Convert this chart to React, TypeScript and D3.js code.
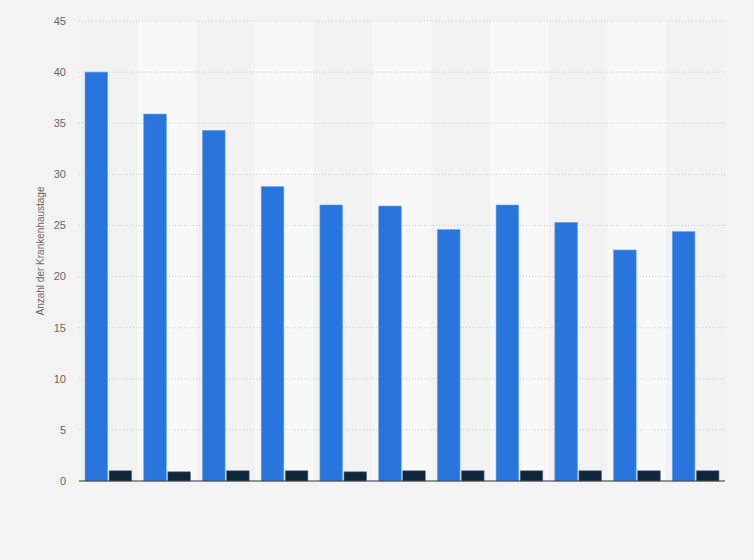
import * as d3 from "d3";

const groups = ["1", "2", "3", "4", "5", "6", "7", "8", "9", "10", "11"];
const seriesA = [40.0, 35.9, 34.3, 28.8, 27.0, 26.9, 24.6, 27.0, 25.3, 22.6, 24.4];
const seriesB = [1.0, 0.9, 1.0, 1.0, 0.9, 1.0, 1.0, 1.0, 1.0, 1.0, 1.0];
const yTicks = [0, 5, 10, 15, 20, 25, 30, 35, 40, 45];

const width = 754;
const height = 560;
const margin = { top: 21, right: 29, bottom: 79, left: 79 };
const font = "Arial, 'Liberation Sans', sans-serif";

const App = () => {
  const innerW = width - margin.left - margin.right;
  const innerH = height - margin.top - margin.bottom;

  const x = d3.scaleBand<string>().domain(groups).range([0, innerW]);
  const inner = d3
    .scaleBand<string>()
    .domain(["a", "b"])
    .range([6, x.bandwidth() - 6])
    .paddingInner(0.06);
  const y = d3.scaleLinear().domain([0, 45]).range([innerH, 0]);

  return (
    <svg
      width={width}
      height={height}
      style={{ position: "absolute", left: 0, top: 0, display: "block" }}
    >
      <rect width={width} height={height} fill="#f3f3f3" />
      <g transform={`translate(${margin.left}, ${margin.top})`}>
        {groups.map((g, i) => (
          <rect
            key={"band" + g}
            x={x(g)}
            y={0}
            width={x.bandwidth()}
            height={innerH}
            fill={i % 2 === 1 ? "#f8f8f8" : "#f2f2f2"}
          />
        ))}
        {yTicks
          .filter((t) => t > 0)
          .map((t) => (
            <line
              key={"grid" + t}
              x1={0}
              x2={innerW}
              y1={y(t)}
              y2={y(t)}
              stroke="#cfcfcf"
              strokeDasharray="1,2"
            />
          ))}
        {yTicks.map((t) => (
          <text
            key={"tick" + t}
            x={-13}
            y={y(t)}
            dy="0.35em"
            textAnchor="end"
            fontFamily={font}
            fontSize={11}
            fill="#666"
          >
            {t}
          </text>
        ))}
        {groups.map((g, i) => (
          <g key={"bars" + g} transform={`translate(${x(g)}, 0)`}>
            <rect
              x={inner("a")}
              y={y(seriesA[i])}
              width={inner.bandwidth()}
              height={innerH - y(seriesA[i])}
              fill="#2876dd"
              stroke="#6fa3ea"
              strokeWidth={0.6}
            />
            <rect
              x={inner("b")}
              y={y(seriesB[i])}
              width={inner.bandwidth()}
              height={innerH - y(seriesB[i])}
              fill="#0f263a"
              stroke="#6c7a88"
              strokeWidth={0.6}
            />
          </g>
        ))}
        <line x1={0} x2={innerW} y1={innerH} y2={innerH} stroke="#333" strokeWidth={1} />
      </g>
      <text
        transform={`translate(44, ${margin.top + innerH / 2}) rotate(-90)`}
        textAnchor="middle"
        fontFamily={font}
        fontSize={10}
        fill="#666"
      >
        Anzahl der Krankenhaustage
      </text>
    </svg>
  );
};

export default App;
